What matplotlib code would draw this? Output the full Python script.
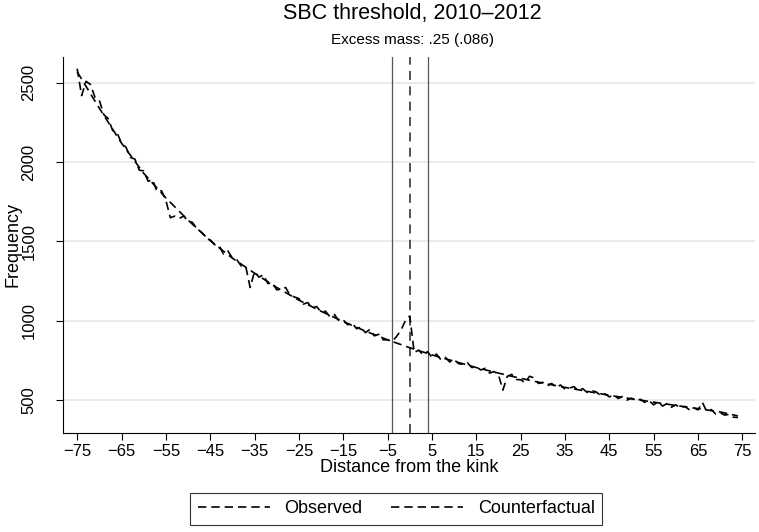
import matplotlib.pyplot as plt
import numpy as np

plt.rcParams['font.family'] = ['Liberation Sans', 'DejaVu Sans']

# bins relative to the kink
dist = np.arange(-75, 75)

observed = [
    2590, 2420, 2510, 2490, 2410, 2390, 2300, 2275, 2200, 2185,
    2120, 2095, 2030, 2020, 1950, 1945, 1880, 1890, 1815, 1820,
    1760, 1650, 1660, 1645, 1660, 1630, 1620, 1580, 1560, 1530,
    1510, 1480, 1475, 1420, 1440, 1395, 1385, 1345, 1345, 1210,
    1310, 1275, 1290, 1235, 1240, 1195, 1200, 1210, 1160, 1150,
    1140, 1105, 1115, 1080, 1090, 1055, 1060, 1025, 1040, 1000,
    1005, 975, 985, 950, 960, 925, 945, 905, 915, 880,
    880, 870, 900, 940, 1000, 1030, 800, 815, 785, 805,
    770, 790, 755, 770, 740, 755, 730, 725, 735, 705,
    710, 690, 700, 670, 680, 660, 563, 650, 662, 630,
    628, 610, 650, 640, 605, 612, 590, 605, 580, 595,
    568, 575, 585, 560, 572, 548, 560, 552, 530, 540,
    520, 532, 510, 522, 500, 512, 495, 505, 485, 495,
    470, 490, 462, 478, 455, 470, 450, 460, 440, 452,
    438, 485, 425, 440, 412, 420, 405, 410, 392, 390,
]

# fitted counterfactual density
cf_dist = [-75, -70, -65, -60, -55, -50, -45, -40, -35, -30, -25, -20, -15,
           -10, -5, 0, 5, 10, 15, 20, 25, 30, 35, 40, 45, 50, 55, 60, 65,
           70, 74]
counterfactual = [2570, 2340, 2120, 1930, 1775, 1635, 1505, 1395, 1300, 1210,
                  1130, 1060, 995, 935, 880, 830, 785, 745, 705, 670, 637,
                  607, 580, 555, 530, 508, 487, 466, 446, 425, 400]

lower, kink, upper = -4, 0, 4

xticks = np.arange(-75, 76, 10)
yticks = [500, 1000, 1500, 2000, 2500]

fig = plt.figure(figsize=(7.59, 5.32), dpi=100)
ax = fig.add_axes([0.083, 0.186, 0.912, 0.707])

for yv in yticks:
    ax.axhline(yv, color='#e6e6e6', lw=1.2, zorder=0)

ax.axvline(lower, color='#555555', lw=0.9, zorder=1)
ax.axvline(upper, color='#555555', lw=0.9, zorder=1)
ax.axvline(kink, color='#444444', lw=1.3, dashes=(5, 3.5), zorder=1)

ax.plot(dist, observed, color='black', lw=1.2, dashes=(5, 3),
        label='Observed', zorder=3)
ax.plot(cf_dist, counterfactual, color='black', lw=1.2, dashes=(5, 3),
        label='Counterfactual', zorder=2)

ax.set_xlim(-78.2, 77.9)
ax.set_ylim(292, 2664)
ax.set_xticks(xticks)
ax.set_yticks(yticks)
ax.set_yticklabels([str(v) for v in yticks], rotation=90, va='center')
ax.tick_params(labelsize=12, length=5, width=0.8, color='black')
ax.tick_params(axis='x', pad=3)
ax.tick_params(axis='y', pad=14)

for side in ['top', 'right']:
    ax.spines[side].set_visible(False)
for side in ['left', 'bottom']:
    ax.spines[side].set_linewidth(0.8)

ax.set_xlabel('Distance from the kink', fontsize=13, labelpad=0)
ax.set_ylabel('Frequency', fontsize=13, labelpad=0)

fig.text(0.543, 0.975, 'SBC threshold, 2010\u20132012', ha='center',
         va='center', fontsize=15.5)
fig.text(0.543, 0.924, 'Excess mass: .25 (.086)', ha='center',
         va='center', fontsize=11)

leg = fig.legend(loc='lower center', bbox_to_anchor=(0.522, -0.003), ncol=2,
                 fontsize=13, frameon=True, fancybox=False,
                 edgecolor='black', handlelength=4, columnspacing=1.6,
                 borderpad=0.4, handletextpad=0.8)
leg.get_frame().set_linewidth(0.8)

fig.savefig('out.png', dpi=100)
